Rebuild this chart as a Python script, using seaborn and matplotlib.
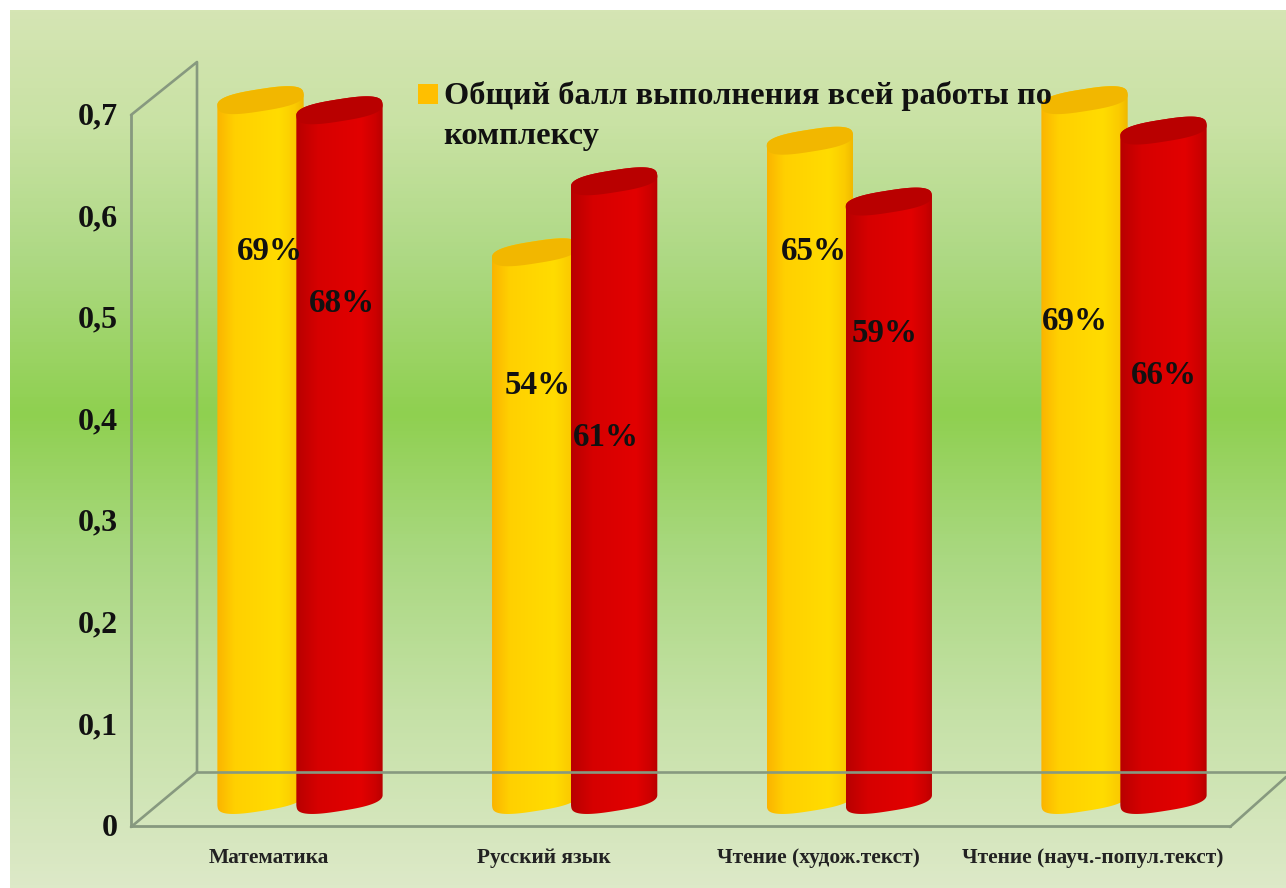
import numpy as np
import pandas as pd
import matplotlib
matplotlib.use("Agg")
import matplotlib.pyplot as plt
import seaborn as sns
from matplotlib.colors import LinearSegmentedColormap
from matplotlib.lines import Line2D
from matplotlib.patches import PathPatch, Patch
from matplotlib.path import Path
from matplotlib.transforms import IdentityTransform, ScaledTranslation

# ---- data ----
categories = ["Математика", "Русский язык", "Чтение (худож.текст)", "Чтение (науч.-попул.текст)"]
series_a_name = "Общий балл выполнения всей работы по\nкомплексу"
series_b_name = "Второй ряд"
series_a = [0.69, 0.54, 0.65, 0.69]
series_b = [0.68, 0.61, 0.59, 0.66]
value_ticks = [0, 0.1, 0.2, 0.3, 0.4, 0.5, 0.6, 0.7]
value_tick_labels = ["0", "0,1", "0,2", "0,3", "0,4", "0,5", "0,6", "0,7"]

# ---- layout (pixels) ----
W, H = 1286, 888
label_pos_a = [(270, 252), (538, 385), (814, 251), (1075, 322)]
label_pos_b = [(342, 303), (606, 438), (885, 333), (1164, 376)]
GRID = "#87997f"
SERIF = "Liberation Serif"

sns.set_theme(style="white")
plt.rcParams["font.family"] = [SERIF, "DejaVu Sans"]
plt.rcParams["font.weight"] = "bold"

fig = plt.figure(figsize=(W / 100, H / 100), dpi=100, facecolor="white")


def px_axes(x0, y0, x1, y1, **kw):
    """Axes from pixel box (y measured from the top)."""
    return fig.add_axes([x0 / W, 1 - y1 / H, (x1 - x0) / W, (y1 - y0) / H], **kw)


# background gradient
bg = px_axes(10, 10, 1286, 888)
bg_cmap = LinearSegmentedColormap.from_list(
    "bg", [(0, "#d5e5b4"), (0.13, "#c9e2a4"), (0.28, "#aed984"), (0.46, "#8fd050"),
           (0.62, "#a9d880"), (0.8, "#c5e1a6"), (1, "#dde9c8")])
bg.imshow(np.linspace(0, 1, 256)[:, None], cmap=bg_cmap, aspect="auto")
bg.axis("off")


# frame lines of the 3-D box
def frame(xs, ys, lw):
    fig.add_artist(Line2D([x / W for x in xs], [1 - y / H for y in ys],
                          color=GRID, lw=lw, solid_capstyle="round"))


frame([131, 197, 197], [115, 62, 772], 1.9)
frame([197, 1286], [772, 772], 1.9)
frame([131, 197], [827, 772], 1.9)
frame([1230, 1286], [827, 777], 1.9)

# front axis: ticks and category labels
spacing = 274.67
front = px_axes(131, 115, 1230, 826)
front.patch.set_visible(False)
front.set_xlim((131 - 269) / spacing, (1230 - 269) / spacing)
front.set_ylim(0, 0.7)
front.set_yticks(value_ticks, value_tick_labels)
front.set_xticks(range(len(categories)), categories)
front.tick_params(axis="y", length=0, pad=9.5, labelsize=23, labelcolor="#111111")
front.tick_params(axis="x", length=0, pad=15.5, labelsize=15.4, labelcolor="#222222")
up = ScaledTranslation(0, 1.5 / 100, fig.dpi_scale_trans)
for lab in front.get_yticklabels():
    lab.set_fontweight("bold")
    lab.set_transform(lab.get_transform() + up)
for lab in front.get_xticklabels():
    lab.set_fontweight("bold")
for s in ("top", "right"):
    front.spines[s].set_visible(False)
for s in ("left", "bottom"):
    front.spines[s].set_color(GRID)
    front.spines[s].set_linewidth(2.0)

# bars: same scale shifted towards the back of the box
ax = px_axes(131, 90, 1230, 800)
ax.patch.set_visible(False)
df = pd.DataFrame({
    "category": categories * 2,
    "value": series_a + series_b,
    "series": [series_a_name] * 4 + [series_b_name] * 4,
})
sns.barplot(data=df, x="category", y="value", hue="series",
            palette=["#ffd500", "#dd0000"], width=0.575, gap=0, dodge=True,
            legend=False, ax=ax)
ax.set_xlim((131 - 300) / spacing, (1230 - 300) / spacing)
ax.set_ylim(0, 0.7)
ax.axis("off")
fig.canvas.draw()

cmap_y = LinearSegmentedColormap.from_list(
    "y", [(0, "#fbb400"), (0.2, "#ffd000"), (0.72, "#ffdc00"), (0.9, "#fbcb00"), (1, "#efb800")])
cmap_r = LinearSegmentedColormap.from_list(
    "r", [(0, "#b80000"), (0.25, "#d60000"), (0.75, "#e20000"), (0.92, "#cc0000"), (1, "#b80000")])

A, B, TILT, POWER = 43.5, 11.0, np.deg2rad(9), 0.72
whole_t = np.linspace(0, 2 * np.pi, 480, endpoint=False)
_u = np.sign(np.cos(whole_t)) * np.abs(np.cos(whole_t)) ** POWER * A
_v = np.sign(np.sin(whole_t)) * np.abs(np.sin(whole_t)) ** POWER * B
ex = _u * np.cos(TILT) - _v * np.sin(TILT)
ey = _u * np.sin(TILT) + _v * np.cos(TILT)
_i = int(np.argmax(ex))
ex, ey = np.roll(ex, -_i), np.roll(ey, -_i)   # starts at rightmost, runs over the upper side
_l = int(np.argmin(ex))
half = ex.max()


def cylinder(patch, cmap, top_color, z):
    x0, y0 = patch.get_x(), patch.get_y()
    (lx, by), (rx, ty) = ax.transData.transform(
        [(x0, y0), (x0 + patch.get_width(), y0 + patch.get_height())])
    cx = (lx + rx) / 2
    upper = np.c_[cx + ex[:_l + 1], ty + ey[:_l + 1]]
    lower = np.c_[cx + np.r_[ex[_l:], ex[0]], by + np.r_[ey[_l:], ey[0]]]
    pts = np.vstack([upper, lower])
    body = Path(np.vstack([pts, pts[0]]), closed=True)
    inv = ax.transData.inverted()
    (dx0, dy0), (dx1, dy1) = inv.transform([(cx - half, by - 25), (cx + half, ty + 25)])
    im = ax.imshow(np.linspace(0, 1, 128)[None, :], cmap=cmap, aspect="auto",
                   extent=(dx0, dx1, dy0, dy1), zorder=z)
    im.set_clip_box(fig.bbox)
    im.set_clip_path(body, IdentityTransform())
    top = np.c_[cx + ex, ty + ey]
    ax.add_patch(PathPatch(Path(np.vstack([top, top[0]]), closed=True), fc=top_color, ec="none",
                           transform=IdentityTransform(), zorder=z + 0.1, clip_on=False))
    patch.set_visible(False)


bars = list(ax.patches)
for i, patch in enumerate(bars):
    is_a = i < len(categories)
    cylinder(patch, cmap_y if is_a else cmap_r, "#f2b700" if is_a else "#b90000", 3 + i * 0.2)
ax.set_xlim((131 - 300) / spacing, (1230 - 300) / spacing)
ax.set_ylim(0, 0.7)

# value labels
for vals, positions in ((series_a, label_pos_a), (series_b, label_pos_b)):
    for v, (px, py) in zip(vals, positions):
        fig.text(px / W, 1 - py / H, f"{round(v * 100)}%", ha="center", va="center",
                 fontsize=23.8, fontweight="bold", color="#111111", zorder=10)

# legend (first series only)
leg = fig.legend(handles=[Patch(fc="#ffbf00", ec="none", label=series_a_name)],
                 loc="upper left", bbox_to_anchor=(418 / W, 1 - 81 / H),
                 frameon=False, fontsize=23.3, handlelength=0.62, handleheight=0.55,
                 handletextpad=0.17, borderpad=0, borderaxespad=0)
for t in leg.get_texts():
    t.set_fontweight("bold")
    t.set_color("#111111")
    t.set_linespacing(1.5)
for p in leg.get_patches():
    p.set_y(p.get_y() + 15.5)

fig.savefig("out.png", dpi=100, facecolor="white")
